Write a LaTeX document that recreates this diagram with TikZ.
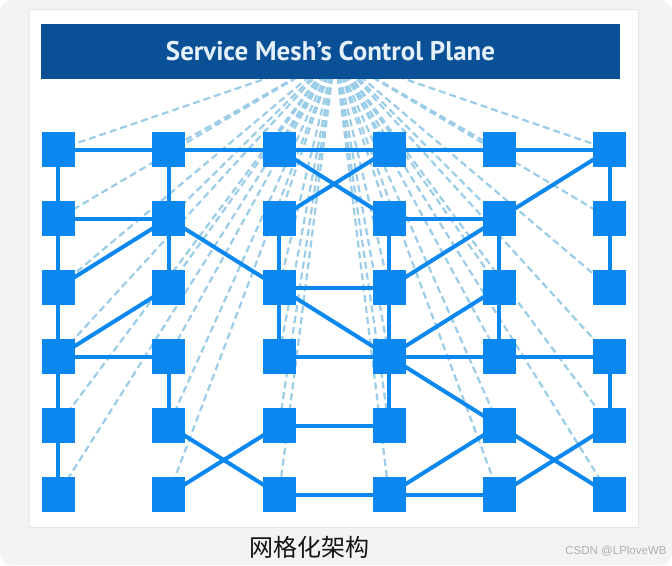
\documentclass[tikz,border=0pt]{standalone}
\usepackage{fontspec}
\setmainfont{PT Sans}
\newfontfamily\cjkfont{Noto Sans CJK SC}
\newfontfamily\wmfont{Liberation Sans}
\pgfdeclarelayer{back}
\pgfdeclarelayer{edges}
\pgfsetlayers{back,edges,main}
\definecolor{nodeblue}{RGB}{10,136,240}
\definecolor{barblue}{RGB}{10,80,150}
\definecolor{dashblue}{RGB}{155,205,232}
\definecolor{pagegray}{RGB}{243,243,243}
\definecolor{cardline}{RGB}{230,230,230}
\definecolor{captxt}{RGB}{20,20,20}
\definecolor{wmgray}{RGB}{175,175,175}
\definecolor{bartxt}{RGB}{228,240,250}
\tikzset{
  sq/.style={fill=nodeblue, minimum width=33pt, minimum height=35pt, inner sep=0pt, draw=none},
  link/.style={draw=nodeblue, line width=4pt},
  ctl/.style={draw=dashblue, line width=2.2pt, dash pattern=on 7pt off 4pt},
  barbox/.style={fill=barblue, text=bartxt, minimum width=579pt, minimum height=55pt, inner sep=0pt},
}
\begin{document}
\begin{tikzpicture}[x=1pt,y=-1pt]
\useasboundingbox (0,0) rectangle (672,565);
\begin{pgfonlayer}{back}
  \fill[white] (0,0) rectangle (672,565);
  \fill[pagegray, rounded corners=12pt] (0,0) rectangle (672,565);
  \filldraw[fill=white, draw=cardline, line width=0.8pt] (29,9) rectangle (638,527);
\end{pgfonlayer}
\node[barbox] (cp) at (330.5,51.5) {\resizebox{329pt}{!}{\bfseries Service Mesh’s Control Plane}};
\coordinate (vp) at (335,55);
\foreach \c/\x in {1/58,2/168.5,3/279,4/389,5/499,6/609.5}
  \foreach \r/\y in {1/149.5,2/218.5,3/287.5,4/356.5,5/425.5,6/494.5}
    \node[sq] (n\c\r) at (\x,\y) {};
\begin{pgfonlayer}{edges}
  \foreach \c in {1,...,6}
    \foreach \r in {1,...,6}
      \draw[ctl] (vp) -- (n\c\r.center);
  \foreach \a/\b in {n11/n21,n21/n31,n31/n41,n41/n51,n51/n61,
      n11/n12,n12/n13,n13/n14,n14/n15,n15/n16,
      n21/n22,n22/n23,n24/n25,
      n12/n22,n13/n22,n22/n33,n14/n23,n14/n24,n25/n36,n26/n35,
      n31/n42,n32/n41,n32/n33,n33/n34,n33/n43,n33/n44,n34/n44,n35/n45,n36/n46,
      n42/n52,n42/n43,n43/n52,n52/n61,n52/n53,n61/n62,n62/n63,
      n53/n44,n43/n44,n44/n54,n54/n64,n53/n54,n44/n45,n44/n55,n64/n65,
      n55/n46,n46/n56,n55/n66,n56/n65}
    \draw[link] (\a.center) -- (\b.center);
\end{pgfonlayer}
\node[font=\cjkfont\fontsize{24}{26}\selectfont, text=captxt] (cap) at (309,547) {网格化架构};
\node[font=\wmfont\fontsize{11.5}{13}\selectfont, text=wmgray] (wm) at (616,551) {CSDN @LPloveWB};
\end{tikzpicture}
\end{document}
